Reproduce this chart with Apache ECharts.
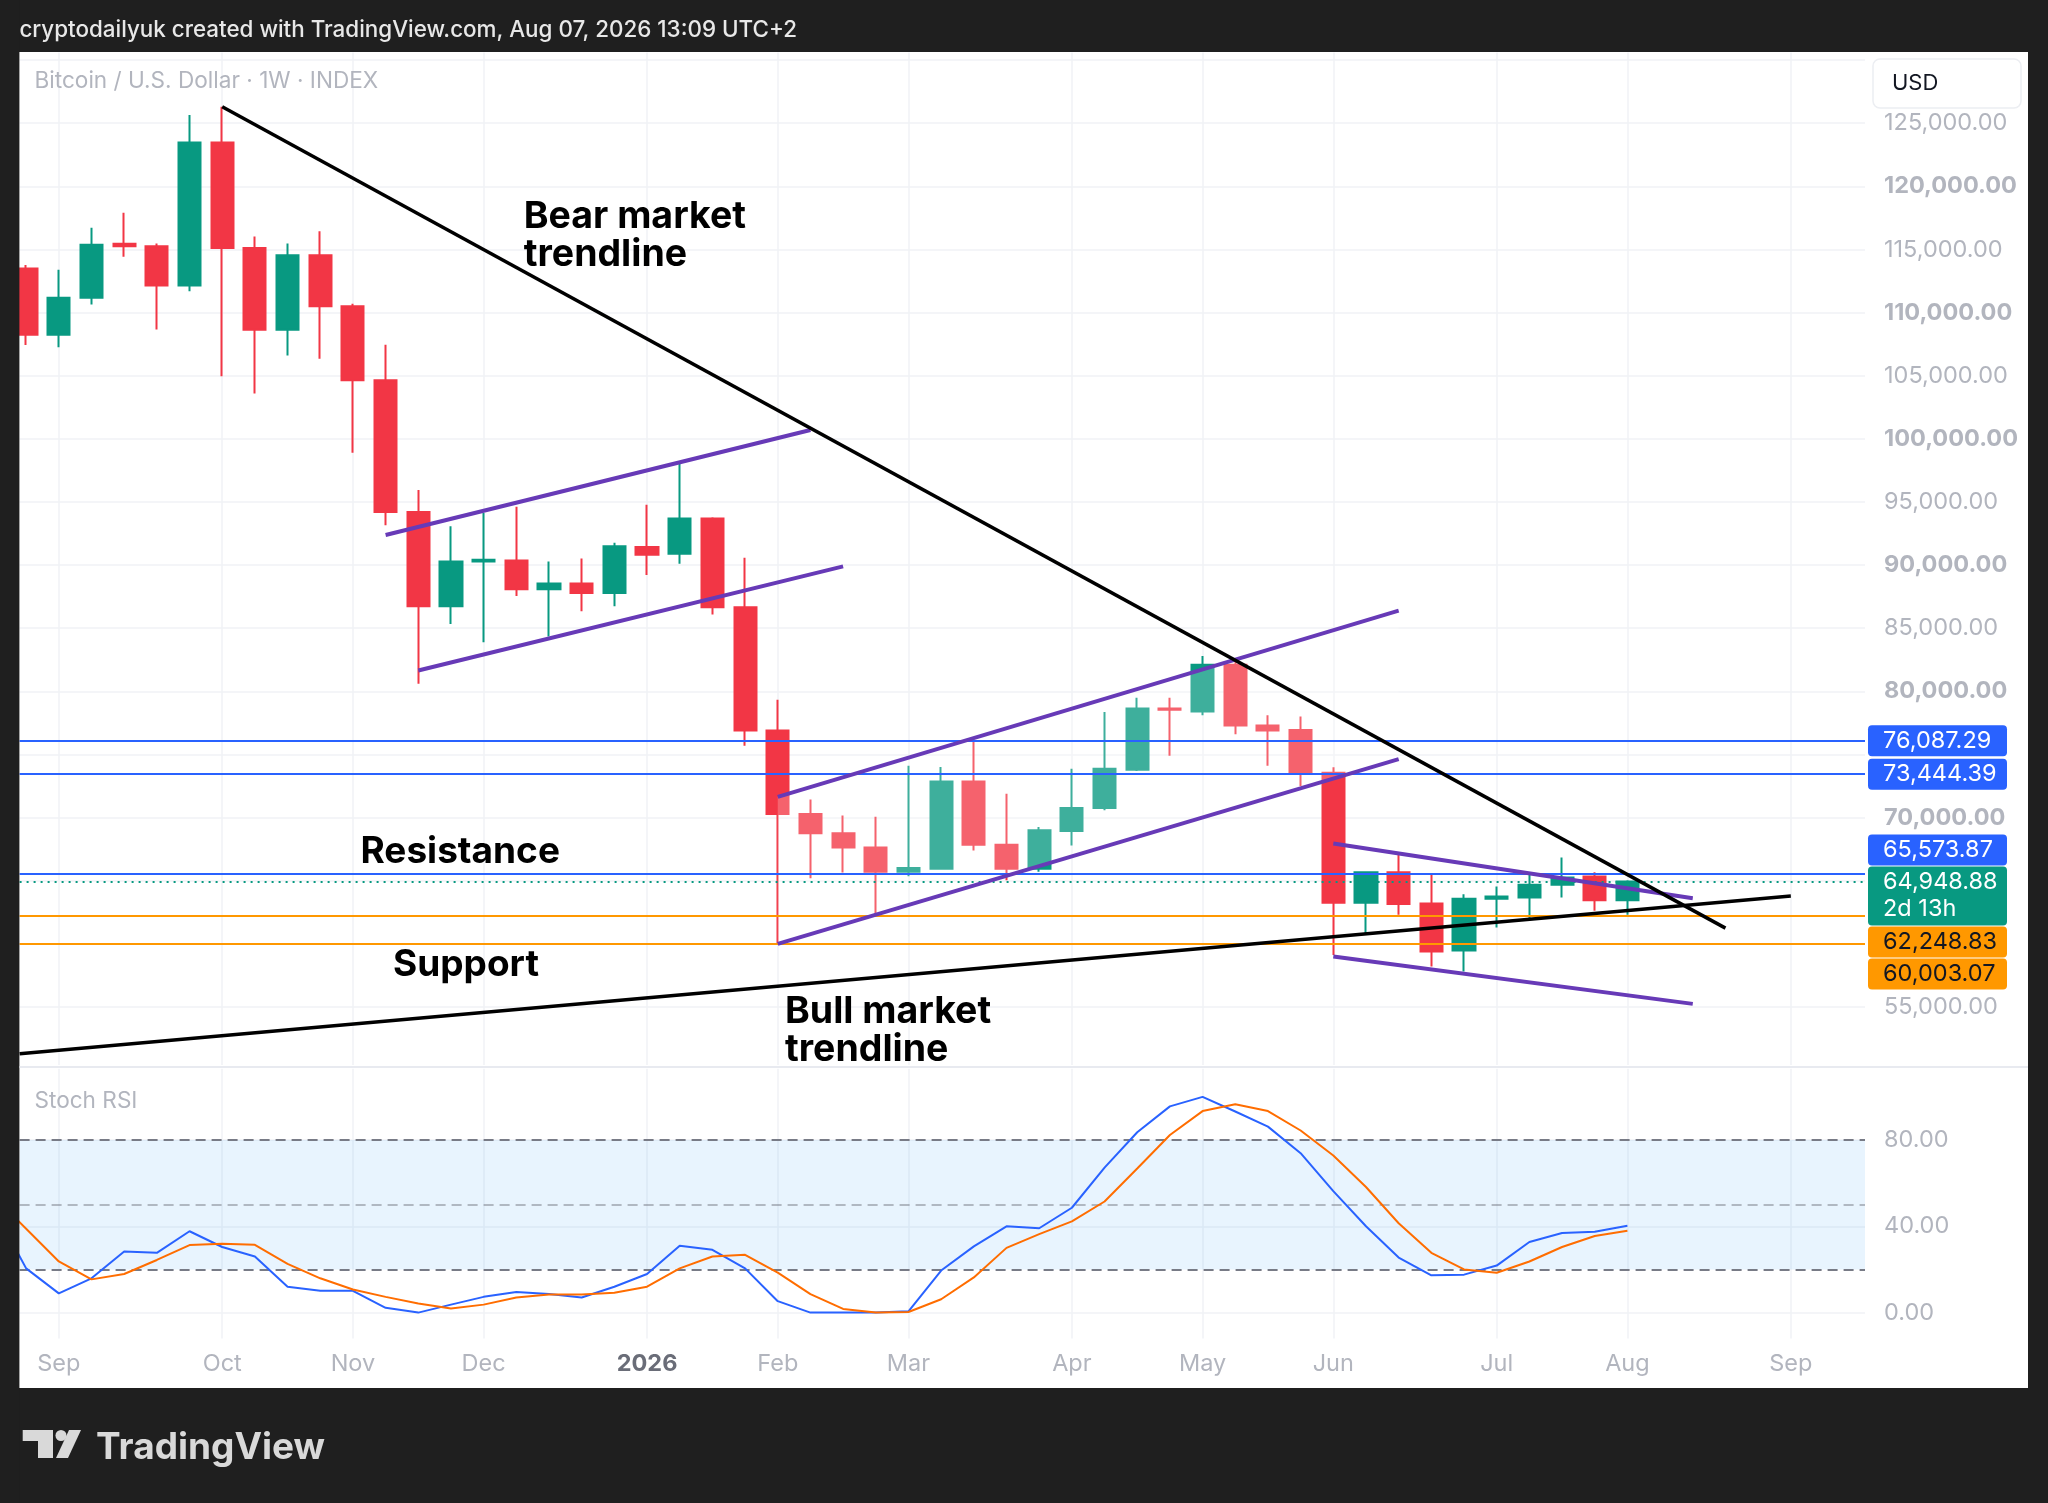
<!DOCTYPE html>
<html><head><meta charset="utf-8">
<script src="https://cdn.jsdelivr.net/npm/echarts@6/dist/echarts.min.js"></script>
<style>html,body{margin:0;padding:0;background:#1f1f1f;}#c{width:2048px;height:1503px;}</style>
</head><body><div id="c"></div>
<script>
// ---------- DATA ----------
const weeks = ['2025-08-18','2025-08-25','2025-09-01','2025-09-08','2025-09-15','2025-09-22','2025-09-29','2025-10-06','2025-10-13','2025-10-20','2025-10-27','2025-11-03','2025-11-10','2025-11-17','2025-11-24','2025-12-01','2025-12-08','2025-12-15','2025-12-22','2025-12-29','2026-01-05','2026-01-12','2026-01-19','2026-01-26','2026-02-02','2026-02-09','2026-02-16','2026-02-23','2026-03-02','2026-03-09','2026-03-16','2026-03-23','2026-03-30','2026-04-06','2026-04-13','2026-04-20','2026-04-27','2026-05-04','2026-05-11','2026-05-18','2026-05-25','2026-06-01','2026-06-08','2026-06-15','2026-06-22','2026-06-29','2026-07-06','2026-07-13','2026-07-20','2026-07-27','2026-08-03'];
const candleOpen  = [null,113500,108250,111170,115450,115250,112150,123480,115110,108640,114550,110510,104640,94200,86740,90290,90360,88090,88550,87790,91440,90900,93700,86670,76910,70280,68760,67640,65720,65960,72860,67850,65960,68940,70770,73800,78650,78400,82100,77300,76950,73550,63260,65680,63200,59470,63570,63670,64680,65340,63460];
const candleClose = [null,108250,111170,115370,115250,112150,123480,115110,108640,114550,110510,104640,94200,86740,90290,90420,88090,88550,87790,91500,90820,93700,86670,76910,70280,68760,67640,65720,66020,72860,67850,65960,69000,70770,73870,78650,78550,82100,77300,76900,73450,63260,65680,63150,59400,63570,63750,64680,65260,63460,64948.88];
const candleLow   = [null,107430,107260,110640,114420,108670,111700,104960,103590,106600,106340,98890,93150,80600,85330,83890,87560,84350,86350,86740,89210,90100,86090,75690,60000,65200,65660,62300,65360,65870,67390,65050,65720,67790,70590,73700,74900,78100,76600,74100,72500,59120,60850,62300,58210,57810,61300,62040,63670,62620,62300];
const candleHigh  = [null,113760,113400,116720,117900,115470,125650,126300,116030,115470,116450,110710,107460,95940,93080,94130,94620,90290,90520,91770,94790,98100,93800,90590,79340,71440,70160,70070,74110,74020,76090,71890,69250,73870,78370,79500,79500,82800,82400,78100,78000,74000,65730,67110,65470,63940,64550,65600,66840,65680,65050];
const stochK = [48.6,20.5,8.9,15.9,28.3,27.7,37.7,30.4,26.0,12.0,10.1,10.1,2.2,0,3.7,7.3,9.5,8.6,7.0,12.0,17.9,31.0,29.1,20.5,5.3,0,0,0,0.6,19.5,30.7,40.0,39.1,48.6,67.2,83.6,95.6,100,93.2,86.2,73.9,56.3,40.0,25.5,17.3,17.6,21.8,32.7,36.9,37.5,40.3];
const stochD = [54.0,38.9,23.7,15.4,17.9,24.4,31.3,31.9,31.4,22.6,15.9,10.7,7.3,4.2,1.9,3.7,7.0,8.4,8.4,9.2,12.0,20.5,26.0,26.8,18.5,8.6,1.7,0,0.3,6.2,16.3,30.0,36.4,42.3,51.5,66.8,82.3,93.4,96.6,93.4,84.4,72.8,58.2,41.4,27.7,20.0,18.5,23.7,30.4,35.5,37.9];
const monthTickDates = ['2025-09-01','2025-10-06','2025-11-03','2025-12-01','2026-01-05','2026-02-02','2026-03-02','2026-04-06','2026-05-04','2026-06-01','2026-07-06','2026-08-03','2026-09-07'];
const monthLabels = ['Sep','Oct','Nov','Dec','2026','Feb','Mar','Apr','May','Jun','Jul','Aug','Sep'];
const priceGridValues = [55000,60000,65000,70000,75000,80000,85000,90000,95000,100000,105000,110000,115000,120000,125000,130000];
const priceLabelValues = [55000,70000,80000,85000,90000,95000,100000,105000,110000,115000,120000,125000];
const stochLabelValues = [0,40,80];
const stochBandLevels = [80,50,20];
const blueLevels = [76087.29,73444.39,65573.87];
const orangeLevels = [62248.83,60003.07];
const currentPrice = 64948.88;
const countdown = '2d 13h';
// trendlines: [weekOffset from 2025-09-01, price]
const bearTrendline = [[5,126300],[51,61250]];
const bullTrendline = [[-1.2,51300],[53,63800]];
const channel1Upper = [[10,92380],[23,100700]];
const channel1Lower = [[11,81650],[24,89900]];
const channel2Upper = [[22,71650],[41,86400]];
const channel2Lower = [[22,60000],[41,74630]];
const channel3Upper = [[39,67950],[50,63620]];
const channel3Lower = [[39,59000],[50,55250]];

// ---------- BUILD ----------
const T0 = Date.parse('2025-09-01');
const wk = d => Math.round((Date.parse(d) - T0) / 6048e5 * 1000) / 1000;
const monthTicks = monthTickDates.map(wk);
const fmt = v => v.toLocaleString('en-US', {minimumFractionDigits: 2, maximumFractionDigits: 2});

const candleData = [];
weeks.forEach((d, k) => {
  if (candleOpen[k] == null) return;
  candleData.push([wk(d), candleOpen[k], candleClose[k], candleLow[k], candleHigh[k]]);
});
const kData = weeks.map((d, k) => [wk(d), stochK[k]]);
const dData = weeks.map((d, k) => [wk(d), stochD[k]]);
const channelFill = [channel2Upper[0], channel2Upper[1], channel2Lower[1], channel2Lower[0]];

const FONT = 'Inter, "Noto Sans", sans-serif';
const LBL = '#b2b5be';
const GRID = '#f0f2f6';
const AX = 23.5;

const chart = echarts.init(document.getElementById('c'), null, {renderer: 'canvas'});

function lineSeries(pts, color, width) {
  return {type: 'line', xAxisIndex: 0, yAxisIndex: 0, data: pts, symbol: 'none', silent: true, z: 5,
    lineStyle: {color: color, width: width}, clip: true};
}

const option = {
  animation: false,
  backgroundColor: '#ffffff',
  textStyle: {fontFamily: FONT},
  grid: [
    {left: 19.6, right: 183, top: 52.5, bottom: 437.9},
    {left: 19.6, right: 183, top: 1068.8, bottom: 164.5}
  ],
  xAxis: [
    {type: 'value', gridIndex: 0, min: -1.2, max: 55.27,
      axisLine: {show: false}, axisTick: {show: false, customValues: monthTicks},
      axisLabel: {show: false}, splitLine: {show: true, lineStyle: {color: GRID, width: 1.5}}},
    {type: 'value', gridIndex: 1, min: -1.2, max: 55.27,
      axisLine: {show: false}, axisTick: {show: false, customValues: monthTicks},
      axisLabel: {show: true, customValues: monthTicks, margin: 13, fontSize: AX, color: LBL, fontFamily: FONT,
        formatter: v => {
          const i = monthTicks.findIndex(t => Math.abs(t - v) < 1e-6);
          const s = i >= 0 ? monthLabels[i] : '';
          return /^\d{4}$/.test(s) ? '{y|' + s + '}' : s;
        },
        rich: {y: {fontWeight: 'bold', color: '#6a6d78', fontSize: AX, fontFamily: FONT}}},
      splitLine: {show: true, lineStyle: {color: GRID, width: 1.5}}}
  ],
  yAxis: [
    {type: 'value', gridIndex: 0, position: 'right', min: 50400, max: 130600, scale: true,
      axisLine: {show: false}, axisTick: {show: false, customValues: priceGridValues},
      axisLabel: {customValues: priceLabelValues, margin: 19, align: 'left',
        formatter: v => (v % 10000 === 0 ? '{b|' : '{n|') + fmt(v) + '}',
        rich: {b: {fontWeight: 'bold', color: LBL, fontSize: AX, fontFamily: FONT},
               n: {fontWeight: 'normal', color: LBL, fontSize: AX, fontFamily: FONT}}},
      splitLine: {show: true, lineStyle: {color: GRID, width: 1.5}}},
    {type: 'value', gridIndex: 1, position: 'right', min: -12, max: 113,
      axisLine: {show: false}, axisTick: {show: false, customValues: stochLabelValues},
      axisLabel: {customValues: stochLabelValues, margin: 19, align: 'left', color: LBL, fontSize: AX, fontFamily: FONT,
        formatter: v => v.toFixed(2)},
      splitLine: {show: true, lineStyle: {color: GRID, width: 1.5}}}
  ],
  series: [
    {type: 'candlestick', xAxisIndex: 0, yAxisIndex: 0, z: 2, silent: true,
      dimensions: ['x', 'open', 'close', 'low', 'high'],
      encode: {x: 'x', y: ['open', 'close', 'low', 'high']},
      data: candleData, barWidth: 22.6, clip: true,
      itemStyle: {color: '#089981', color0: '#f23645', borderColor: '#089981', borderColor0: '#f23645', borderWidth: 2}},
    {type: 'custom', xAxisIndex: 0, yAxisIndex: 0, z: 3, silent: true, data: [[0, 0]],
      renderItem: (params, api) => ({type: 'polygon', shape: {points: channelFill.map(p => api.coord(p))},
        style: {fill: 'rgba(255,255,255,0.22)'}})},
    {type: 'line', xAxisIndex: 0, yAxisIndex: 0, data: [], z: 4, silent: true,
      markLine: {symbol: ['none', 'none'], silent: true, label: {show: false}, animation: false,
        data: [
          ...blueLevels.map(v => ({yAxis: v, lineStyle: {color: '#2962ff', width: 2, type: 'solid'}})),
          ...orangeLevels.map(v => ({yAxis: v, lineStyle: {color: '#ff9800', width: 2, type: 'solid'}})),
          {yAxis: currentPrice, lineStyle: {color: '#089981', width: 2, type: [2, 5]}}
        ]}},
    lineSeries(channel1Upper, '#673ab7', 4),
    lineSeries(channel1Lower, '#673ab7', 4),
    lineSeries(channel2Upper, '#673ab7', 4),
    lineSeries(channel2Lower, '#673ab7', 4),
    lineSeries(channel3Upper, '#673ab7', 4),
    lineSeries(channel3Lower, '#673ab7', 4),
    lineSeries(bearTrendline, '#000000', 3.5),
    lineSeries(bullTrendline, '#000000', 3.5),
    {type: 'line', xAxisIndex: 1, yAxisIndex: 1, data: kData, symbol: 'none', silent: true, z: 5,
      lineStyle: {color: '#2962ff', width: 2},
      markArea: {silent: true, itemStyle: {color: 'rgba(33,150,243,0.1)'},
        data: [[{yAxis: stochBandLevels[2]}, {yAxis: stochBandLevels[0]}]]},
      markLine: {symbol: ['none', 'none'], silent: true, label: {show: false},
        data: stochBandLevels.map(v => ({yAxis: v, lineStyle: {color: v === 50 ? 'rgba(120,123,134,0.5)' : '#787b86', width: 2, type: [10, 6]}}))}},
    {type: 'line', xAxisIndex: 1, yAxisIndex: 1, data: dData, symbol: 'none', silent: true, z: 5,
      lineStyle: {color: '#ff6d00', width: 2}}
  ]
};
chart.setOption(option);

// ---------- price-scale label boxes (TradingView style stacking) ----------
const py = v => chart.convertToPixel({yAxisIndex: 0}, v);
const items = [];
blueLevels.forEach(v => items.push({v, y: py(v), h: 31, bg: '#2962ff', fg: '#ffffff', lines: [fmt(v)]}));
orangeLevels.forEach(v => items.push({v, y: py(v), h: 31, bg: '#ff9800', fg: '#131722', lines: [fmt(v)]}));
const cur = {v: currentPrice, y: py(currentPrice), h: 59, bg: '#089981', fg: '#ffffff', lines: [fmt(currentPrice), countdown], anchor: true};
cur.top = cur.y - 15;
items.forEach(it => it.top = it.y - it.h / 2);
const above = items.filter(it => it.y < cur.y).sort((a, b) => b.y - a.y);
const below = items.filter(it => it.y >= cur.y).sort((a, b) => a.y - b.y);
let lim = cur.top;
above.forEach(it => { if (it.top + it.h > lim - 1) it.top = lim - 1 - it.h; lim = it.top; });
lim = cur.top + cur.h;
below.forEach(it => { if (it.top < lim + 1) it.top = lim + 1; lim = it.top + it.h; });
const boxes = [];
[...items, cur].forEach(it => {
  boxes.push({type: 'rect', z: 100, shape: {x: 1868, y: it.top, width: 139, height: it.h, r: 4}, style: {fill: it.bg}});
  it.lines.forEach((s, j) => boxes.push({type: 'text', z: 101, x: 1883, y: it.top + 15.5 + j * 27,
    style: {text: s, fill: it.fg, fontSize: AX, fontFamily: FONT, verticalAlign: 'middle', align: 'left'}}));
});

const txt = (x, y, s, size, weight, color, extra) => Object.assign({type: 'text', z: 100, x, y,
  style: Object.assign({text: s, fill: color, fontSize: size, fontWeight: weight, fontFamily: FONT, verticalAlign: 'middle', align: 'left'}, extra || {})});

const graphic = [
  {type: 'rect', z: 90, shape: {x: 0, y: 0, width: 2048, height: 52}, style: {fill: '#1f1f1f'}},
  {type: 'rect', z: 90, shape: {x: 0, y: 1388, width: 2048, height: 115}, style: {fill: '#1f1f1f'}},
  {type: 'rect', z: 90, shape: {x: 0, y: 0, width: 19.4, height: 1503}, style: {fill: '#1f1f1f'}},
  {type: 'rect', z: 90, shape: {x: 2028, y: 0, width: 20, height: 1503}, style: {fill: '#1f1f1f'}},
  {type: 'line', z: 90, shape: {x1: 19.4, y1: 1067, x2: 2028, y2: 1067}, style: {stroke: '#e0e3eb', lineWidth: 1.5}},
  txt(19.4, 30.7, 'cryptodailyuk created with TradingView.com, Aug 07, 2026 13:09 UTC+2', 22.4, 500, '#e8e8e8'),
  txt(34.5, 81.7, 'Bitcoin / U.S. Dollar · 1W · INDEX', 22.6, 'normal', LBL),
  txt(34.5, 1101.7, 'Stoch RSI', 22.6, 'normal', LBL),
  {type: 'rect', z: 100, shape: {x: 1873, y: 59, width: 148, height: 49, r: 7}, style: {fill: '#ffffff', stroke: '#eceef2', lineWidth: 1.5}},
  txt(1892, 83.5, 'USD', 22, 'normal', '#131722'),
  txt(523.7, 197.8, 'Bear market\ntrendline', 37.5, 'bold', '#000000', {verticalAlign: 'top', lineHeight: 38}),
  txt(360.5, 852, 'Resistance', 37, 'bold', '#000000'),
  txt(393, 965, 'Support', 37, 'bold', '#000000'),
  txt(785, 993, 'Bull market\ntrendline', 37.5, 'bold', '#000000', {verticalAlign: 'top', lineHeight: 38}),
  // TradingView logo
  {type: 'rect', z: 100, shape: {x: 22.7, y: 1430, width: 30, height: 11}, style: {fill: '#d9d9d9'}},
  {type: 'rect', z: 100, shape: {x: 38, y: 1430, width: 15, height: 28}, style: {fill: '#d9d9d9'}},
  {type: 'circle', z: 100, shape: {cx: 61, cy: 1435.5, r: 5.5}, style: {fill: '#d9d9d9'}},
  {type: 'polygon', z: 100, shape: {points: [[69, 1430], [81, 1430], [68, 1458], [56, 1458]]}, style: {fill: '#d9d9d9'}},
  txt(96, 1448, 'TradingView', 37, 'bold', '#d9d9d9'),
  ...boxes
];
chart.setOption({graphic: graphic});
</script></body></html>
